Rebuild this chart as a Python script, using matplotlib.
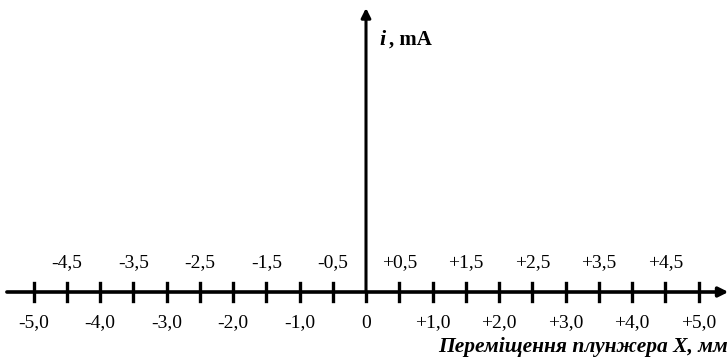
import numpy as np
import matplotlib.pyplot as plt

plt.rcParams["font.family"] = ["Liberation Serif", "DejaVu Serif"]

# Tick values along the plunger displacement axis (mm)
major_ticks = [-5.0, -4.0, -3.0, -2.0, -1.0, 0.0, 1.0, 2.0, 3.0, 4.0, 5.0]
major_labels = ["-5,0", "-4,0", "-3,0", "-2,0", "-1,0", "0",
                "+1,0", "+2,0", "+3,0", "+4,0", "+5,0"]
half_ticks = [-4.5, -3.5, -2.5, -1.5, -0.5, 0.5, 1.5, 2.5, 3.5, 4.5]
half_labels = ["-4,5", "-3,5", "-2,5", "-1,5", "-0,5",
               "+0,5", "+1,5", "+2,5", "+3,5", "+4,5"]

fig = plt.figure(figsize=(7.28, 3.59), dpi=100)
ax = fig.add_axes([0, 0, 1, 1])
ax.set_axis_off()

# pixel-like frame: 0 mm sits at x=366 px, ~66.5 px per mm
scale = 66.5
x0 = 366
ax.set_xlim(-x0 / scale, (728 - x0) / scale)
ax.set_ylim(359, 0)

y_axis = 292

# horizontal axis with arrow
ax.annotate("", xy=(5.45, y_axis), xytext=(-5.4, y_axis),
            arrowprops=dict(arrowstyle="-|>", color="black", lw=2.6,
                            mutation_scale=14, shrinkA=0, shrinkB=0))
# vertical axis with arrow
ax.annotate("", xy=(0, 8), xytext=(0, y_axis),
            arrowprops=dict(arrowstyle="-|>", color="black", lw=2.2,
                            mutation_scale=14, shrinkA=0, shrinkB=0))

# tick marks
all_ticks = sorted(major_ticks + half_ticks)
for t in all_ticks:
    if t == 0:
        ax.plot([t, t], [y_axis, y_axis + 9], color="black", lw=2.4)
    else:
        ax.plot([t, t], [y_axis - 9, y_axis + 9], color="black", lw=2.4)

# labels
for t, lab in zip(major_ticks, major_labels):
    ax.text(t, 323, lab, ha="center", va="center", fontsize=14)
for t, lab in zip(half_ticks, half_labels):
    ax.text(t, 263, lab, ha="center", va="center", fontsize=14)

ax.text(5.44, 347, "Переміщення плунжера X, мм", ha="right", va="center",
        fontsize=15.5, fontweight="bold", fontstyle="italic")
ax.text(0.2, 40, "i", ha="left", va="center", fontsize=16,
        fontweight="bold", fontstyle="italic")
ax.text(0.34, 40, ", mA", ha="left", va="center", fontsize=15,
        fontweight="bold")

fig.savefig("out.png", dpi=100)
